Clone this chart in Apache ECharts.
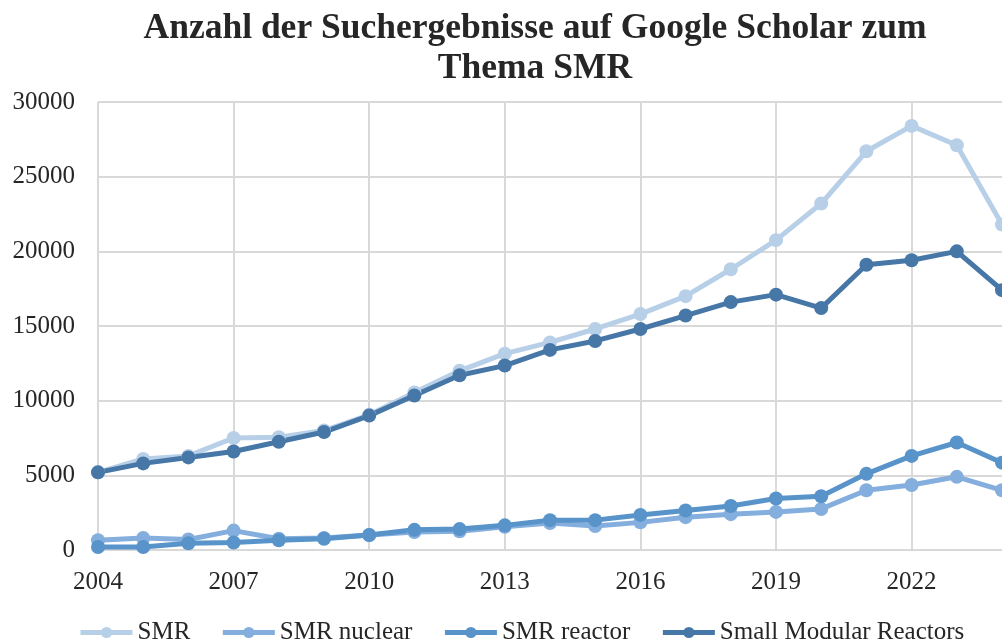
<!DOCTYPE html>
<html>
<head>
<meta charset="utf-8">
<title>Google Scholar SMR</title>
<script src="https://cdn.jsdelivr.net/npm/echarts@6/dist/echarts.min.js"></script>
<style>
  html, body { margin: 0; padding: 0; background: #fff; }
  #chart { width: 1002px; height: 644px; }
</style>
</head>
<body>
<div id="chart"></div>
<script>
// Jahre (x-Achse)
const years = ["2004", "2005", "2006", "2007", "2008", "2009", "2010", "2011", "2012", "2013",
  "2014", "2015", "2016", "2017", "2018", "2019", "2020", "2021", "2022", "2023", "2024"];

// Suchergebnisse je Suchbegriff
const smr = [5200, 6100, 6300, 7500, 7550, 8000, 9050, 10550, 12000, 13150,
  13900, 14800, 15800, 17000, 18800, 20750, 23200, 26700, 28400, 27100, 21800];
const smrNuclear = [650, 800, 700, 1300, 750, 800, 1000, 1200, 1250, 1550,
  1800, 1600, 1850, 2200, 2400, 2550, 2750, 4000, 4350, 4900, 4000];
const smrReactor = [200, 200, 450, 500, 650, 750, 1000, 1350, 1400, 1650,
  2000, 2000, 2350, 2650, 2950, 3450, 3600, 5100, 6300, 7200, 5850];
const smallModularReactors = [5200, 5800, 6200, 6600, 7250, 7900, 9000, 10350, 11700, 12350,
  13400, 14000, 14800, 15700, 16600, 17100, 16200, 19100, 19400, 20000, 17400];

const seriesNames = ["SMR", "SMR nuclear", "SMR reactor", "Small Modular Reactors"];
const seriesColors = ["#b8cfe8", "#83aedd", "#5893c9", "#4677a7"];
const seriesData = [smr, smrNuclear, smrReactor, smallModularReactors];

const font = "'Liberation Serif', 'Times New Roman', serif";

const chart = echarts.init(document.getElementById("chart"), null, { renderer: "canvas" });

const options = {
  animation: false,
  color: seriesColors,
  title: {
    text: "Anzahl der Suchergebnisse auf Google Scholar zum\nThema SMR",
    left: 530,
    textAlign: "center",
    top: 4,
    textStyle: {
      fontFamily: font,
      fontSize: 35.5,
      fontWeight: "bold",
      color: "#262626",
      lineHeight: 40,
    },
  },
  legend: {
    left: 73,
    top: 615,
    itemWidth: 52,
    itemHeight: 14,
    itemGap: 30,
    lineStyle: { width: 5 },
    textStyle: {
      fontFamily: font,
      fontSize: 25,
      color: "#262626",
    },
  },
  grid: {
    left: 98,
    right: -1,
    top: 102,
    bottom: 94,
    containLabel: false,
  },
  xAxis: {
    type: "category",
    data: years,
    boundaryGap: false,
    axisLine: { show: true, lineStyle: { color: "#d9d9d9", width: 2 } },
    axisTick: { show: false },
    axisLabel: {
      interval: 2,
      margin: 20,
      fontFamily: font,
      fontSize: 25,
      color: "#262626",
    },
    splitLine: {
      show: true,
      interval: 2,
      lineStyle: { color: "#d9d9d9", width: 2 },
    },
  },
  yAxis: {
    type: "value",
    min: 0,
    max: 30000,
    interval: 5000,
    axisLine: { show: false },
    axisTick: { show: false },
    axisLabel: {
      margin: 23,
      fontFamily: font,
      fontSize: 25,
      color: "#262626",
      formatter: (v) => String(v),
    },
    splitLine: { lineStyle: { color: "#d9d9d9", width: 2 } },
  },
  series: seriesNames.map((name, i) => ({
    name: name,
    type: "line",
    data: seriesData[i],
    symbol: "circle",
    symbolSize: 14,
    lineStyle: { width: 5, color: seriesColors[i] },
    itemStyle: { color: seriesColors[i] },
  })),
};

chart.setOption(options);
</script>
</body>
</html>
